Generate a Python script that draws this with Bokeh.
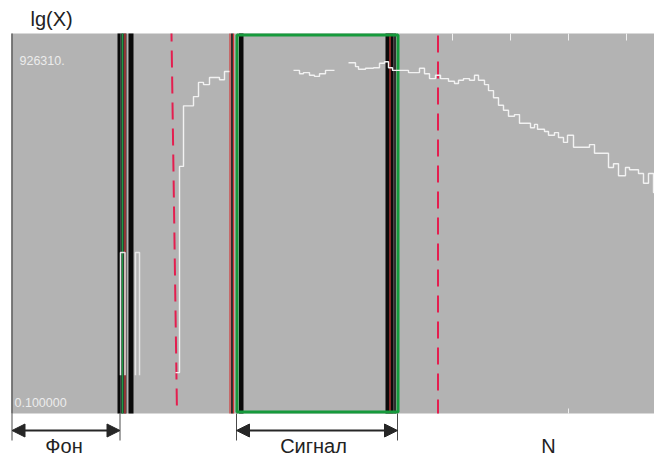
import numpy as np
from bokeh.plotting import figure
from bokeh.models import Range1d, Arrow, NormalHead
from bokeh.core.properties import value
from bokeh.embed import file_html
from bokeh.resources import INLINE

# ---------------- data ----------------
Y_MAX_LABEL = "926310."
Y_MIN_LABEL = "0.100000"
Y_TITLE = "lg(X)"
LG_MAX = float(np.log10(926310))
LG_MIN = float(np.log10(0.1))
CH_MIN, CH_MAX = 0, 643

# spectrum (channel edges, lg values) – three visible pieces
SEG_A_EDGES = [164, 168, 172, 182, 187, 192, 198, 208, 213, 218]
SEG_A_LG = [-0.25, 3.53, 4.64, 4.81, 5.07, 5.03, 5.16, 5.12, 5.27]
SEG_B_EDGES = [282, 288, 292, 298, 303, 308, 314, 323]
SEG_B_LG = [5.29, 5.23, 5.25, 5.20, 5.18, 5.23, 5.29]
SEG_C_EDGES = [337, 344, 347, 354, 362, 368, 373, 377, 381, 397,
               408, 413, 418, 424, 429, 437, 443, 447, 452, 458,
               463, 467, 473, 477, 482, 487, 492, 497, 503, 508,
               519, 523, 526, 533, 537, 543, 547, 552, 556, 562,
               578, 583, 597, 602, 607, 614, 618, 627, 632, 637,
               642, 643]
SEG_C_LG = [5.43, 5.36, 5.31, 5.33, 5.34, 5.42, 5.45, 5.34, 5.29, 5.25,
            5.33, 5.23, 5.14, 5.20, 5.14, 5.09, 5.05, 5.11, 5.14, 5.11,
            5.20, 5.11, 5.03, 4.92, 4.79, 4.65, 4.56, 4.45, 4.48, 4.32,
            4.24, 4.30, 4.21, 4.17, 4.10, 4.15, 4.06, 3.97, 4.10, 3.88,
            3.93, 3.77, 3.51, 3.58, 3.36, 3.51, 3.47, 3.40, 3.22, 3.40,
            3.05]

# background bins inside the "Фон" window
BG_LEFT = [109, 124]
BG_RIGHT = [113.5, 128]
BG_LG = [1.95, 1.95]
BG_BASE = -0.30

# window markers (channels)
BLACK_L = [106, 117, 227.5, 374]
BLACK_R = [109, 122, 232, 382]
DARK_L = [109, 219.5, 382]
DARK_R = [115, 221.5, 384.5]
GREEN_LINES = [111]
RED_LINES = [113.5, 218.5, 222, 378.5]
SIGNAL_LEFT, SIGNAL_RIGHT = 225.5, 386.5
FON_LEFT, FON_RIGHT = 0.5, 108.5
DASH1_TOP, DASH1_BOTTOM = 160, 165.5
DASH2 = 426.5

TOP_TICKS = [441, 499, 557, 615]
BOTTOM_TICKS = [557]

LABELS = ["Фон", "Сигнал", "N"]
LABEL_X = [52.5, 302, 537]

# ---------------- layout helpers ----------------
PLOT_H_PX = 380
LPX = (LG_MAX - LG_MIN) / PLOT_H_PX  # lg units per pixel
Y0 = LG_MIN - 44 * LPX
Y1 = LG_MAX + 33 * LPX

p = figure(width=654, height=457, min_border=0,
           x_range=Range1d(-11, 643), y_range=Range1d(Y0, Y1),
           x_axis_location=None, y_axis_location=None,
           output_backend="svg", toolbar_location=None)
p.grid.visible = False
p.outline_line_color = None
p.background_fill_color = "white"
p.border_fill_color = "white"

FONT = value("Liberation Sans")

# plot area
p.quad(left=CH_MIN, right=CH_MAX, bottom=LG_MIN, top=LG_MAX,
       fill_color="#b3b3b3", line_color=None)
p.segment(x0=[CH_MIN + 0.5], x1=[CH_MIN + 0.5], y0=[LG_MIN], y1=[LG_MAX],
          line_color="#5e5e5e", line_width=1.5)

# window bands
p.quad(left=BLACK_L, right=BLACK_R, bottom=LG_MIN, top=LG_MAX,
       fill_color="#0a0a0a", line_color=None)
p.quad(left=DARK_L, right=DARK_R, bottom=LG_MIN, top=LG_MAX,
       fill_color="#2e2e2e", line_color=None)
p.segment(x0=GREEN_LINES, x1=GREEN_LINES, y0=LG_MIN, y1=LG_MAX,
          line_color="#1d9a45", line_width=1.5)
p.segment(x0=RED_LINES, x1=RED_LINES, y0=LG_MIN, y1=LG_MAX,
          line_color="#d33a3a", line_width=1.2)

# background histogram bins
bg_xs = [[l, l, r, r] for l, r in zip(BG_LEFT, BG_RIGHT)]
bg_ys = [[BG_BASE, v, v, BG_BASE] for v in BG_LG]
p.multi_line(xs=bg_xs, ys=bg_ys, line_color="#e6e6e6", line_width=1.5)

# signal window rectangle
p.quad(left=SIGNAL_LEFT, right=SIGNAL_RIGHT,
       bottom=LG_MIN + 1.5 * LPX, top=LG_MAX - 1.5 * LPX,
       fill_alpha=0, line_color="#169a3c", line_width=3)

# dashed red limits
p.line(x=[DASH1_TOP, DASH1_BOTTOM], y=[LG_MAX, LG_MIN], line_color="#e41e4f",
       line_width=2, line_dash="17 9", line_dash_offset=9)
p.line(x=[DASH2, DASH2], y=[LG_MAX, LG_MIN], line_color="#e41e4f",
       line_width=2, line_dash="17 9", line_dash_offset=-2)

# spectrum
for edges, vals in [(SEG_A_EDGES, SEG_A_LG), (SEG_B_EDGES, SEG_B_LG),
                    (SEG_C_EDGES, SEG_C_LG)]:
    p.step(x=edges, y=list(vals) + [vals[-1]], mode="after",
           line_color="#f2f2f2", line_width=1.4)

# ticks
p.segment(x0=TOP_TICKS, x1=TOP_TICKS, y0=LG_MAX, y1=LG_MAX - 7 * LPX,
          line_color="#f0f0f0", line_width=1)
p.segment(x0=BOTTOM_TICKS, x1=BOTTOM_TICKS, y0=LG_MIN, y1=LG_MIN + 5 * LPX,
          line_color="#f0f0f0", line_width=1)

# limit texts
p.text(x=[8], y=[LG_MAX - 27 * LPX], text=[Y_MAX_LABEL], text_font=FONT,
       text_font_size="12.5px", text_color="#ececec", text_baseline="alphabetic")
p.text(x=[3], y=[LG_MIN + 11 * LPX], text=[Y_MIN_LABEL], text_font=FONT,
       text_font_size="12.5px", text_color="#ececec", text_baseline="alphabetic")
p.text(x=[19], y=[LG_MAX + 15 * LPX], text=[Y_TITLE], text_font=FONT,
       text_font_size="20px", text_color="#222222", text_baseline="alphabetic")

# brackets and arrows below the plot
brk = [FON_LEFT, FON_RIGHT, SIGNAL_LEFT - 0.5, SIGNAL_RIGHT - 0.5]
p.segment(x0=brk, x1=brk, y0=LG_MIN, y1=LG_MIN - 27 * LPX,
          line_color="#4a4a4a", line_width=1)
ARROW_Y = LG_MIN - 17 * LPX
for a, b in [(FON_LEFT, FON_RIGHT), (SIGNAL_LEFT - 0.5, SIGNAL_RIGHT - 0.5)]:
    p.add_layout(Arrow(x_start=a, y_start=ARROW_Y, x_end=b, y_end=ARROW_Y,
                       line_color="#262626", line_width=2,
                       start=NormalHead(size=13, fill_color="#262626", line_color="#262626"),
                       end=NormalHead(size=13, fill_color="#262626", line_color="#262626")))

p.text(x=LABEL_X, y=[LG_MIN - 32 * LPX] * 3, text=LABELS, text_font=FONT,
       text_font_size="20px", text_color="#222222", text_align="center",
       text_baseline="alphabetic")

open("out.html", "w").write(file_html(p, INLINE))
